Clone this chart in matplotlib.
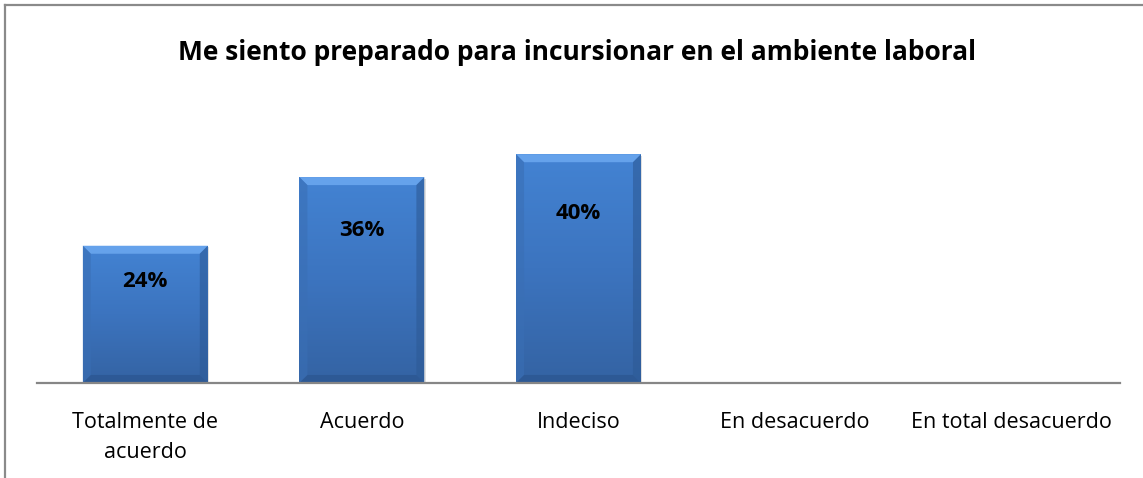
import numpy as np
import matplotlib.pyplot as plt
from matplotlib.colors import LinearSegmentedColormap
from matplotlib.patches import Polygon, Rectangle
from matplotlib.lines import Line2D

titulo = "Me siento preparado para incursionar en el ambiente laboral"
categorias = ["Totalmente de\nacuerdo", "Acuerdo", "Indeciso", "En desacuerdo", "En total desacuerdo"]
porcentajes = [24, 36, 40, 0, 0]

plt.rcParams['font.family'] = ['Open Sans', 'DejaVu Sans']

fig = plt.figure(figsize=(11.43, 4.78), dpi=100)
ax = fig.add_axes([37 / 1143, 95 / 478, 1083 / 1143, 286 / 478])

ancho = 0.577
x = np.arange(len(categorias))
ax.set_xlim(-0.5, len(categorias) - 0.5)
ax.set_ylim(0, 50)

# degradado vertical de la barra
cmap = LinearSegmentedColormap.from_list("azul", ["#3463a3", "#3c74bf", "#4383d3"])
grad = np.linspace(0, 1, 256).reshape(-1, 1)

bx = 0.037   # bisel en x (unidades de categoria)
by = 1.4     # bisel en y (puntos porcentuales)

for xi, v in zip(x, porcentajes):
    if v <= 0:
        continue
    x0, x1 = xi - ancho / 2, xi + ancho / 2
    # sombra
    ax.add_patch(Rectangle((x0 + 0.006, -0.3), ancho, v, facecolor="#000000", alpha=0.12,
                           edgecolor="none", zorder=1))
    im = ax.imshow(grad, extent=[x0, x1, 0, v], origin="lower", cmap=cmap, aspect="auto", zorder=2)
    rect = Rectangle((x0, 0), ancho, v, transform=ax.transData, facecolor="none", edgecolor="none")
    ax.add_patch(rect)
    im.set_clip_path(rect)
    # biseles
    ax.add_patch(Polygon([(x0, v), (x1, v), (x1 - bx, v - by), (x0 + bx, v - by)],
                         closed=True, facecolor="#6aa6ee", edgecolor="none", alpha=0.9, zorder=3))
    ax.add_patch(Polygon([(x0, 0), (x0, v), (x0 + bx, v - by), (x0 + bx, by)],
                         closed=True, facecolor="#3a6fb5", edgecolor="none", alpha=0.6, zorder=3))
    ax.add_patch(Polygon([(x1, 0), (x1, v), (x1 - bx, v - by), (x1 - bx, by)],
                         closed=True, facecolor="#2d5a96", edgecolor="none", alpha=0.6, zorder=3))
    ax.add_patch(Polygon([(x0, 0), (x1, 0), (x1 - bx, by), (x0 + bx, by)],
                         closed=True, facecolor="#2b5590", edgecolor="none", alpha=0.7, zorder=3))
    ax.text(xi, v * 0.74, f"{v}%", ha="center", va="center", fontsize=16,
            fontweight="bold", color="black", zorder=4)

ax.set_xticks(x)
ax.set_xticklabels(categorias, fontsize=15.5, linespacing=1.55)
ax.tick_params(axis="x", length=0, pad=21)
ax.set_yticks([])
for s in ["top", "right", "left"]:
    ax.spines[s].set_visible(False)
ax.spines["bottom"].set_color("#868686")
ax.spines["bottom"].set_linewidth(1.6)
ax.spines["bottom"].set_zorder(5)

fig.text(577 / 1143, 1 - 53 / 478, titulo, ha="center", va="center", fontsize=19, fontweight="bold")

# marco del grafico
fig.add_artist(Line2D([5 / 1143, 5 / 1143], [0, 1 - 5 / 478], color="#8a8a8a", lw=1.6))
fig.add_artist(Line2D([5 / 1143, 1], [1 - 5 / 478, 1 - 5 / 478], color="#8a8a8a", lw=1.6))

fig.savefig("out.png", dpi=100)
